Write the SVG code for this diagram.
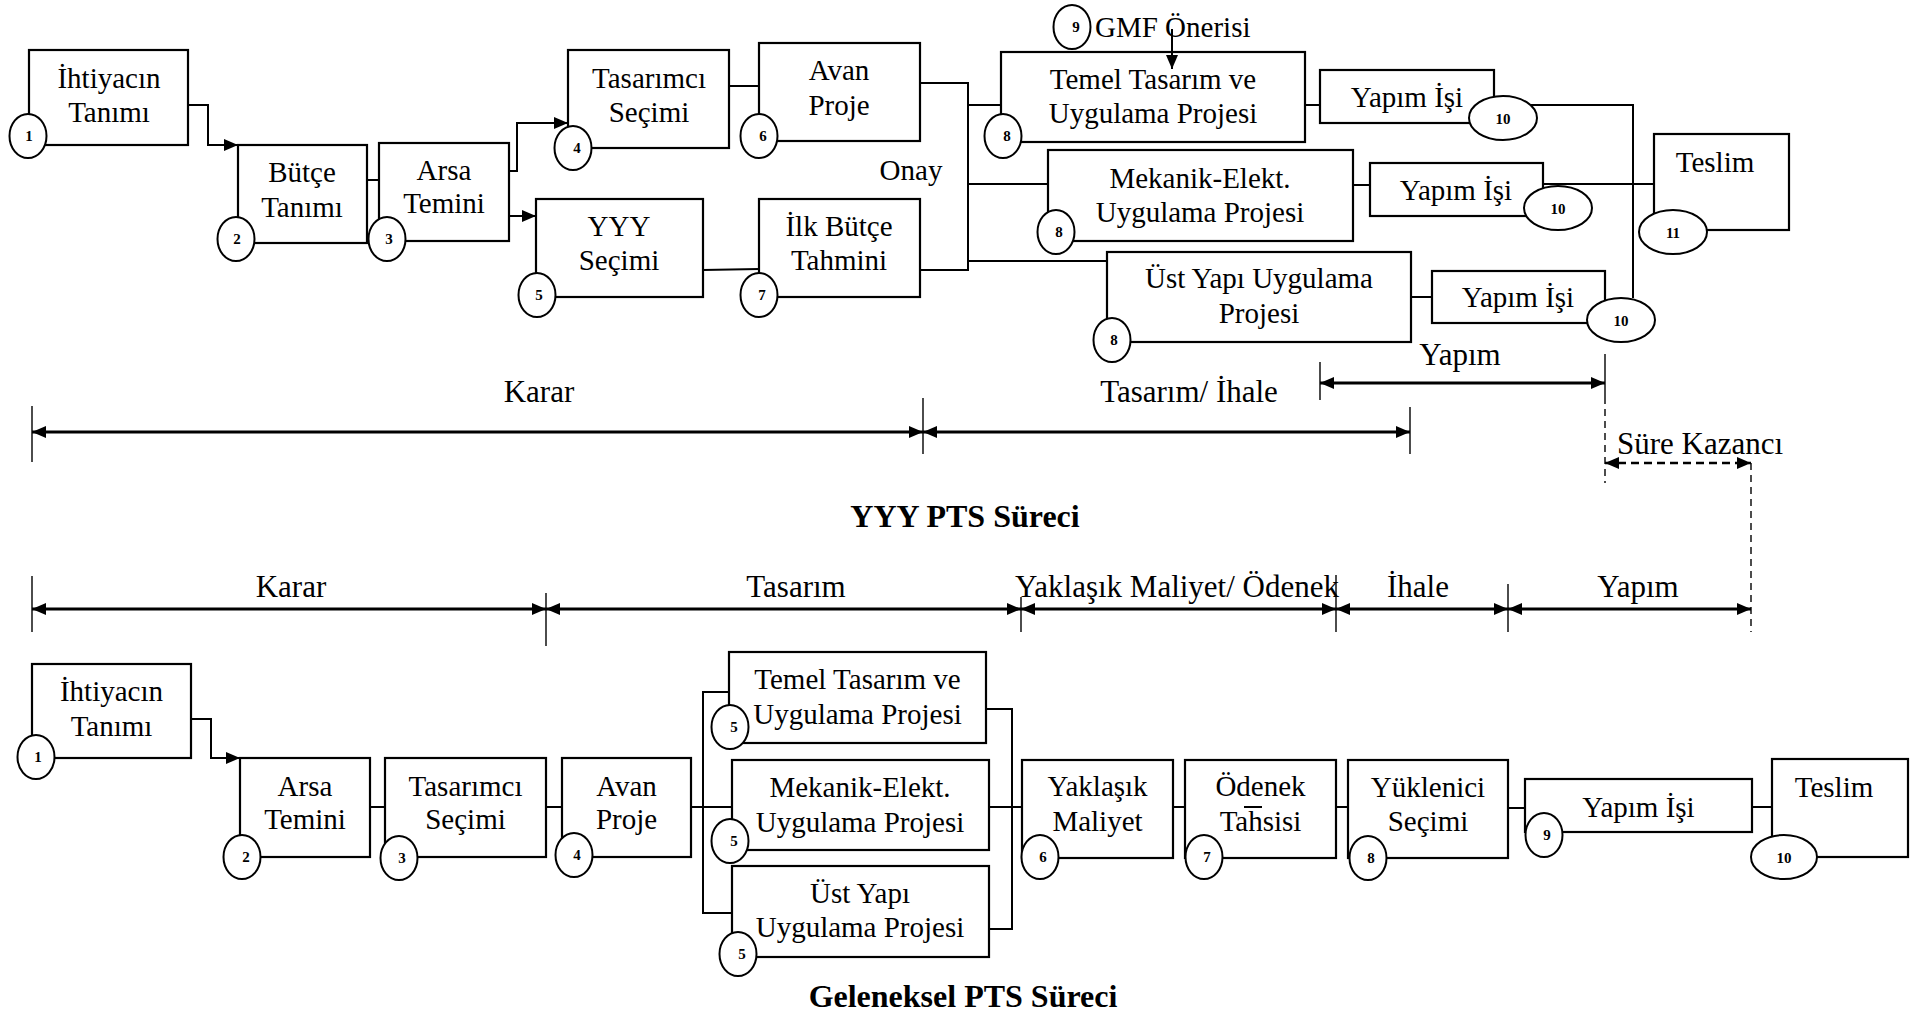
<svg xmlns="http://www.w3.org/2000/svg" width="1916" height="1016" viewBox="0 0 1916 1016">
<defs>
<marker id="ah" viewBox="0 0 14 12" refX="14" refY="6" markerWidth="14" markerHeight="12" markerUnits="userSpaceOnUse" orient="auto-start-reverse"><path d="M0,0 L14,6 L0,12 z" fill="#000"/></marker>
</defs>
<style>
.box{fill:#fff;stroke:#000;stroke-width:2.2}
.num{fill:#fff;stroke:#000;stroke-width:2}
.t{font-family:"Liberation Serif","Times New Roman",serif;font-size:29px;text-anchor:middle;fill:#000}
.tl{font-family:"Liberation Serif","Times New Roman",serif;font-size:31px;text-anchor:middle;fill:#000}
.ttl{font-family:"Liberation Serif","Times New Roman",serif;font-size:32px;font-weight:bold;text-anchor:middle;fill:#000}
.n{font-family:"Liberation Serif","Times New Roman",serif;font-size:15px;font-weight:bold;text-anchor:middle;fill:#000}
.c{fill:none;stroke:#000;stroke-width:2}
.arr{marker-end:url(#ah)}
.span{fill:none;stroke:#000;stroke-width:3;marker-start:url(#ah);marker-end:url(#ah)}
.tick{stroke:#000;stroke-width:1.4;fill:none}
.dash{stroke-dasharray:7 5}
</style>
<rect width="1916" height="1016" fill="#fff"/>

<g id="n1"><rect class="box" x="29" y="50" width="159" height="95"/><text class="t" x="109" y="88">İhtiyacın</text><text class="t" x="109" y="122">Tanımı</text><ellipse class="num" cx="28" cy="136" rx="18.5" ry="22"/><text class="n" x="29" y="141">1</text></g>
<g id="n2"><rect class="box" x="238" y="145" width="129" height="98"/><text class="t" x="302" y="182">Bütçe</text><text class="t" x="302" y="217">Tanımı</text><ellipse class="num" cx="236" cy="239" rx="18.5" ry="22"/><text class="n" x="237" y="244">2</text></g>
<g id="n3"><rect class="box" x="379" y="143" width="130" height="98"/><text class="t" x="444" y="180">Arsa</text><text class="t" x="444" y="213">Temini</text><ellipse class="num" cx="387" cy="239" rx="18.5" ry="22"/><text class="n" x="389" y="244">3</text></g>
<g id="n4"><rect class="box" x="568" y="50" width="161" height="98"/><text class="t" x="649" y="88">Tasarımcı</text><text class="t" x="649" y="122">Seçimi</text><ellipse class="num" cx="573" cy="148" rx="18.5" ry="22"/><text class="n" x="577" y="153">4</text></g>
<g id="n5"><rect class="box" x="536" y="199" width="167" height="98"/><text class="t" x="619" y="236">YYY</text><text class="t" x="619" y="270">Seçimi</text><ellipse class="num" cx="537" cy="295" rx="18.5" ry="22"/><text class="n" x="539" y="300">5</text></g>
<g id="n6"><rect class="box" x="759" y="43" width="161" height="98"/><text class="t" x="839" y="80">Avan</text><text class="t" x="839" y="115">Proje</text><ellipse class="num" cx="759" cy="136" rx="18.5" ry="22"/><text class="n" x="763" y="141">6</text></g>
<g id="n7"><rect class="box" x="759" y="199" width="161" height="98"/><text class="t" x="839" y="236">İlk Bütçe</text><text class="t" x="839" y="270">Tahmini</text><ellipse class="num" cx="759" cy="295" rx="18.5" ry="22"/><text class="n" x="762" y="300">7</text></g>
<g id="onay"><text class="t" x="911" y="180">Onay</text></g>
<g id="n8a"><rect class="box" x="1001" y="52" width="304" height="90"/><text class="t" x="1153" y="89">Temel Tasarım ve</text><text class="t" x="1153" y="123">Uygulama Projesi</text><ellipse class="num" cx="1003" cy="136" rx="18.5" ry="22"/><text class="n" x="1007" y="141">8</text></g>
<g id="n9"><ellipse class="num" cx="1072" cy="27" rx="18.5" ry="22"/><text class="n" x="1076" y="32">9</text><text class="t" x="1095" y="37" style="text-anchor:start">GMF Önerisi</text></g>
<g id="n8b"><rect class="box" x="1048" y="150" width="305" height="91"/><text class="t" x="1200" y="188">Mekanik-Elekt.</text><text class="t" x="1200" y="222">Uygulama Projesi</text><ellipse class="num" cx="1056" cy="232" rx="18.5" ry="22"/><text class="n" x="1059" y="237">8</text></g>
<g id="n8c"><rect class="box" x="1107" y="252" width="304" height="90"/><text class="t" x="1259" y="288">Üst Yapı Uygulama</text><text class="t" x="1259" y="323">Projesi</text><ellipse class="num" cx="1112" cy="340" rx="18.5" ry="22"/><text class="n" x="1114" y="345">8</text></g>
<g id="n10a"><rect class="box" x="1320" y="70" width="174" height="53"/><text class="t" x="1407" y="107">Yapım İşi</text><ellipse class="num" cx="1503" cy="118" rx="34" ry="22"/><text class="n" x="1503" y="124">10</text></g>
<g id="n10b"><rect class="box" x="1370" y="163" width="173" height="53"/><text class="t" x="1456" y="200">Yapım İşi</text><ellipse class="num" cx="1558" cy="208" rx="34" ry="22"/><text class="n" x="1558" y="214">10</text></g>
<g id="n10c"><rect class="box" x="1432" y="271" width="173" height="52"/><text class="t" x="1518" y="307">Yapım İşi</text><ellipse class="num" cx="1621" cy="320" rx="34" ry="22"/><text class="n" x="1621" y="326">10</text></g>
<g id="n11"><rect class="box" x="1654" y="134" width="135" height="96"/><text class="t" x="1715" y="172">Teslim</text><ellipse class="num" cx="1673" cy="232" rx="34" ry="22"/><text class="n" x="1673" y="238">11</text></g>

<g id="timeline-yyy">
<line class="tick" x1="32" y1="406" x2="32" y2="462"/>
<line class="tick" x1="923" y1="398" x2="923" y2="454"/>
<line class="tick" x1="1410" y1="407" x2="1410" y2="454"/>
<line class="tick" x1="1320" y1="362" x2="1320" y2="400"/>
<line class="tick" x1="1605" y1="354" x2="1605" y2="397"/>
<line class="tick dash" x1="1605" y1="397" x2="1605" y2="483"/>
<line class="tick dash" x1="1751" y1="463" x2="1751" y2="632"/>
<line class="span" x1="32" y1="432" x2="923" y2="432"/>
<line class="span" x1="923" y1="432" x2="1410" y2="432"/>
<line class="span" x1="1320" y1="383" x2="1605" y2="383"/>
<line class="span" x1="1605" y1="463" x2="1751" y2="463" style="stroke-width:2.5;stroke-dasharray:8 5"/>
<text class="tl" x="539" y="402">Karar</text>
<text class="tl" x="1189" y="402">Tasarım/ İhale</text>
<text class="tl" x="1460" y="365">Yapım</text>
<text class="tl" x="1700" y="454">Süre Kazancı</text>
<text class="ttl" x="965" y="527">YYY PTS Süreci</text>
</g>

<g id="timeline-geleneksel">
<line class="tick" x1="32" y1="576" x2="32" y2="632"/>
<line class="tick" x1="546" y1="593" x2="546" y2="646"/>
<line class="tick" x1="1021" y1="597" x2="1021" y2="632"/>
<line class="tick" x1="1336" y1="575" x2="1336" y2="632"/>
<line class="tick" x1="1508" y1="584" x2="1508" y2="632"/>
<line class="span" x1="32" y1="609" x2="546" y2="609"/>
<line class="span" x1="546" y1="609" x2="1021" y2="609"/>
<line class="span" x1="1021" y1="609" x2="1336" y2="609"/>
<line class="span" x1="1336" y1="609" x2="1508" y2="609"/>
<line class="span" x1="1508" y1="609" x2="1751" y2="609"/>
<text class="tl" x="291" y="597">Karar</text>
<text class="tl" x="796" y="597">Tasarım</text>
<text class="tl" x="1177" y="597">Yaklaşık Maliyet/ Ödenek</text>
<text class="tl" x="1418" y="597">İhale</text>
<text class="tl" x="1638" y="597">Yapım</text>
</g>

<g id="b1"><rect class="box" x="32" y="664" width="159" height="94"/><text class="t" x="111.5" y="701">İhtiyacın</text><text class="t" x="111.5" y="736">Tanımı</text><ellipse class="num" cx="36" cy="757" rx="18.5" ry="22"/><text class="n" x="38" y="762">1</text></g>
<g id="b2"><rect class="box" x="240" y="758" width="130" height="99"/><text class="t" x="305" y="796">Arsa</text><text class="t" x="305" y="829">Temini</text><ellipse class="num" cx="242" cy="857" rx="18.5" ry="22"/><text class="n" x="246" y="862">2</text></g>
<g id="b3"><rect class="box" x="385" y="758" width="161" height="99"/><text class="t" x="465.5" y="796">Tasarımcı</text><text class="t" x="465.5" y="829">Seçimi</text><ellipse class="num" cx="399" cy="858" rx="18.5" ry="22"/><text class="n" x="402" y="863">3</text></g>
<g id="b4"><rect class="box" x="562" y="758" width="129" height="99"/><text class="t" x="626.5" y="796">Avan</text><text class="t" x="626.5" y="829">Proje</text><ellipse class="num" cx="574" cy="855" rx="18.5" ry="22"/><text class="n" x="577" y="860">4</text></g>
<g id="b5a"><rect class="box" x="729" y="652" width="257" height="91"/><text class="t" x="857.5" y="689">Temel Tasarım ve</text><text class="t" x="857.5" y="724">Uygulama Projesi</text><ellipse class="num" cx="730" cy="727" rx="18.5" ry="22"/><text class="n" x="734" y="732">5</text></g>
<g id="b5b"><rect class="box" x="732" y="760" width="257" height="90"/><text class="t" x="860" y="797">Mekanik-Elekt.</text><text class="t" x="860" y="832">Uygulama Projesi</text><ellipse class="num" cx="730" cy="841" rx="18.5" ry="22"/><text class="n" x="734" y="846">5</text></g>
<g id="b5c"><rect class="box" x="732" y="866" width="257" height="91"/><text class="t" x="860" y="903">Üst Yapı</text><text class="t" x="860" y="937">Uygulama Projesi</text><ellipse class="num" cx="738" cy="954" rx="18.5" ry="22"/><text class="n" x="742" y="959">5</text></g>
<g id="b6"><rect class="box" x="1022" y="760" width="151" height="98"/><text class="t" x="1097.5" y="796">Yaklaşık</text><text class="t" x="1097.5" y="831">Maliyet</text><ellipse class="num" cx="1040" cy="857" rx="18.5" ry="22"/><text class="n" x="1043" y="862">6</text></g>
<g id="b7"><rect class="box" x="1185" y="760" width="151" height="98"/><line class="c" x1="1244" y1="807" x2="1262" y2="807"/><text class="t" x="1260.5" y="796">Ödenek</text><text class="t" x="1260.5" y="831">Tahsisi</text><ellipse class="num" cx="1204" cy="857" rx="18.5" ry="22"/><text class="n" x="1207" y="862">7</text></g>
<g id="b8"><rect class="box" x="1348" y="760" width="160" height="98"/><text class="t" x="1428" y="797">Yüklenici</text><text class="t" x="1428" y="831">Seçimi</text><ellipse class="num" cx="1368" cy="858" rx="18.5" ry="22"/><text class="n" x="1371" y="863">8</text></g>
<g id="b9"><rect class="box" x="1525" y="779" width="227" height="53"/><text class="t" x="1638.5" y="817">Yapım İşi</text><ellipse class="num" cx="1544" cy="835" rx="18.5" ry="22"/><text class="n" x="1547" y="840">9</text></g>
<g id="b10"><rect class="box" x="1772" y="759" width="136" height="98"/><text class="t" x="1834" y="797">Teslim</text><ellipse class="num" cx="1784" cy="857" rx="33" ry="22"/><text class="n" x="1784" y="863">10</text></g>

<text class="ttl" x="963" y="1007">Geleneksel PTS Süreci</text>

<g id="connectors">
<path class="c arr" d="M188,105 H208 V145 H238"/>
<path class="c" d="M367,180 H379"/>
<path class="c arr" d="M509,171 H517 V123 H568"/>
<path class="c arr" d="M509,216 H536"/>
<path class="c" d="M729,86 H759"/>
<path class="c" d="M703,270 L759,269"/>
<path class="c" d="M920,83 H968 V270 H920"/>
<path class="c" d="M968,105 H1001 M968,184 H1048 M968,261 H1107"/>
<path class="c arr" d="M1172,29 V69"/>
<path class="c" d="M1305,105 H1320 M1353,185 H1370 M1411,297 H1432"/>
<path class="c" d="M1531,105 H1633 V298"/>
<path class="c" d="M1543,184 H1654"/>
<path class="c arr" d="M191,719 H211 V758 H240"/>
<path class="c" d="M370,807 H385 M546,807 H562 M691,807 H732"/>
<path class="c" d="M729,692 H703 V913 H732"/>
<path class="c" d="M986,709 H1012 V929 H989 M989,807 H1022"/>
<path class="c" d="M1173,807 H1185 M1336,807 H1348 M1508,808 H1525 M1752,807 H1772"/>
</g>
</svg>
